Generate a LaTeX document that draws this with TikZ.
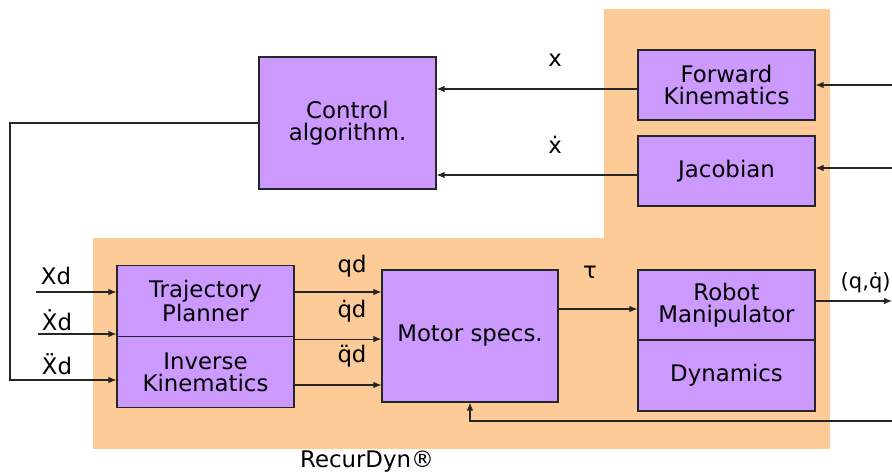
\documentclass[tikz,border=0pt]{standalone}
\usepackage{fontspec}
\setmainfont{DejaVu Sans}
\usetikzlibrary{arrows.meta}
\definecolor{panel}{RGB}{253,203,152}
\definecolor{blockfill}{RGB}{204,153,255}

\begin{document}
\begin{tikzpicture}[x=0.02cm,y=-0.02cm]
\tikzstyle{every node}=[font=\fontsize{13}{12.5}\selectfont]
\tikzstyle{blk}=[draw=black!85, fill=blockfill, line width=0.7pt, minimum width=3.54cm, inner sep=0pt, align=center]
\tikzstyle{sig}=[draw=black!85, line width=0.6pt, -{Latex[length=1.6mm,width=1.3mm]}]
\useasboundingbox (0,0) rectangle (892,475);
% RecurDyn area
\fill[panel] (604,9) rectangle (830,449);
\fill[panel] (93,238) rectangle (830,449);
% blocks
\node (ctrl) [blk, minimum height=2.64cm] at (347.5,123) {Control\\algorithm.};
\node (fk) [blk, minimum height=1.40cm] at (726.5,85) {Forward\\Kinematics};
\node (jac) [blk, minimum height=1.40cm] at (726.5,171) {Jacobian};
\node (traj) [blk, minimum height=1.42cm] at (205.5,301) {Trajectory\\Planner};
\node (ik) [blk, minimum height=1.42cm] at (205.5,372) {Inverse\\Kinematics};
\node (mot) [blk, minimum width=3.52cm, minimum height=2.64cm] at (470,336) {Motor specs.};
\node (rob) [blk, minimum height=1.40cm] at (726.5,305) {Robot\\Manipulator};
\node (dyn) [blk, minimum height=1.42cm] at (726.5,375.5) {Dynamics};
% free ends
\coordinate (fkin) at (892,85);
\coordinate (jacin) at (892,168);
\coordinate (xd) at (36,292);
\coordinate (xdd) at (38,334);
\coordinate (fbl) at (10,380);
\coordinate (fbr) at (892,421);
\coordinate (qout) at (892,301);
% measured states back to the controller
\draw[sig] (fkin) -- (fk.east);
\draw[sig] (jacin) -- (jacin -| jac.east);
\draw[sig] ([yshift=-0.08cm]fk.west) -- ([yshift=-0.08cm]fk.west -| ctrl.east);
\draw[sig] ([yshift=-0.08cm]jac.west) -- ([yshift=-0.08cm]jac.west -| ctrl.east);
\node (lx) at (555,60) {x};
\node (lxd) at (555,145) {\.x};
% desired trajectory
\draw[sig] (xd) -- (xd -| traj.west);
\draw[sig] (xdd) -- (xdd -| traj.west);
\draw[sig] (ctrl.west) -| (fbl) -- (fbl -| ik.west);
\node (lXd) at (56,276) {Xd};
\node (lXdd) at (57,320) {\.Xd};
\node (lXddd) at (57,364) {\"Xd};
% joint references
\draw[sig] ([yshift=0.18cm]traj.east) -- ([yshift=0.18cm]traj.east -| mot.west);
\draw[sig] ([yshift=-0.04cm]traj.south east) -- ([yshift=-0.04cm]traj.south east -| mot.west);
\draw[sig] ([yshift=-0.26cm]ik.east) -- ([yshift=-0.26cm]ik.east -| mot.west);
\node (lq) at (352,266) {qd};
\node (lqd) at (352,311) {\.qd};
\node (lqdd) at (352,356) {\"qd};
% torque and plant output
\draw[sig] ([yshift=-0.08cm]rob.west -| mot.east) -- ([yshift=-0.08cm]rob.west);
\node (ltau) at (590,272) {τ};
\draw[sig] ([yshift=0.08cm]rob.east) -- ([yshift=0.08cm]rob.east -| qout);
\node (lout) [anchor=east, inner sep=0pt, font=\fontsize{12}{12}\selectfont] at (891,283) {(q,\.q)};
\draw[sig] (fbr) -| (mot.south);
\node (lrd) at (367,462) {RecurDyn®};
\end{tikzpicture}
\end{document}
